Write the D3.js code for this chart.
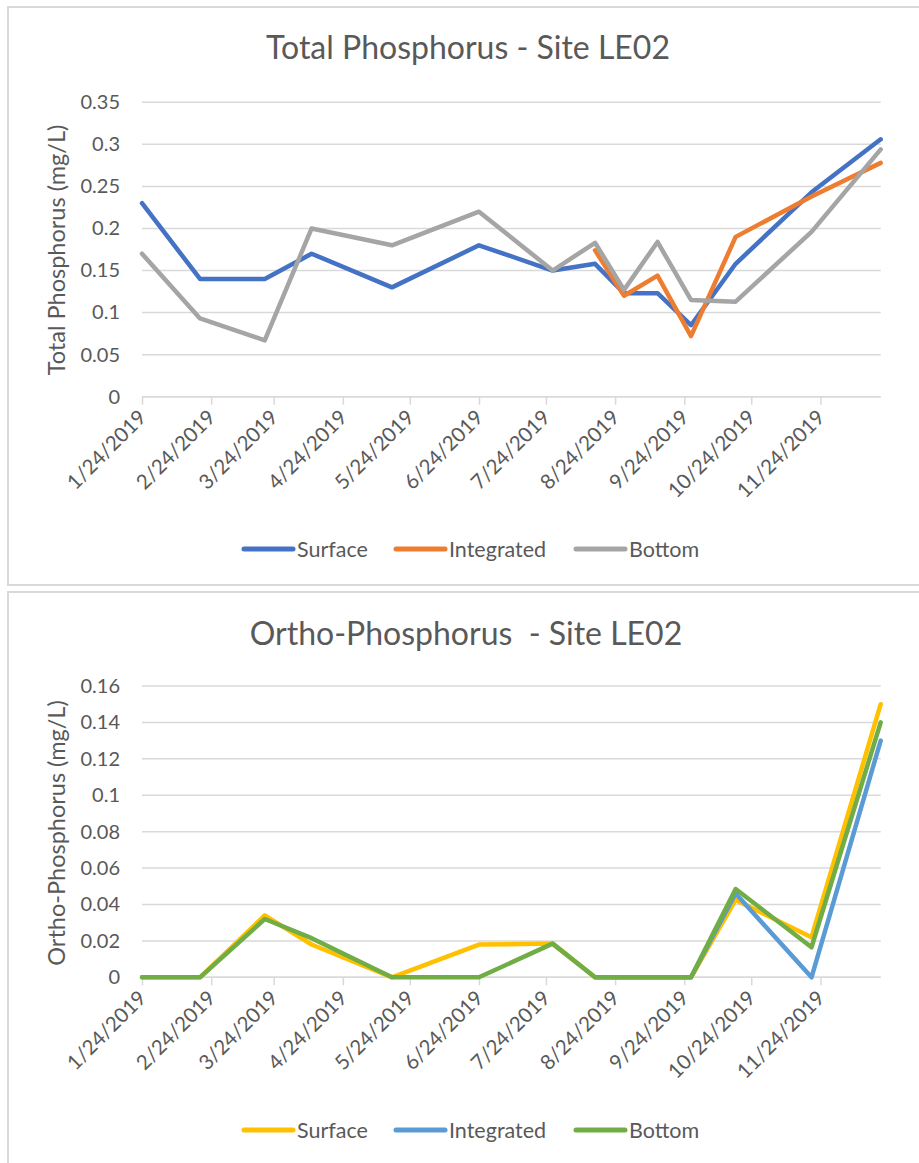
<!DOCTYPE html>
<html>
<head>
<meta charset="utf-8">
<script src="https://cdn.jsdelivr.net/npm/d3@7"></script>
<style>
  html, body { margin: 0; padding: 0; background: #fff; }
  svg { display: block; }
  text { font-family: Lato, "Open Sans", sans-serif; fill: #595959; }
</style>
</head>
<body>
<svg id="chart" width="919" height="1163"></svg>
<script>
// ---------- DATA ----------
const sampleDates = ["2019-01-24","2019-02-19","2019-03-20","2019-04-10","2019-05-16","2019-06-24",
  "2019-07-27","2019-08-15","2019-08-28","2019-09-12","2019-09-27","2019-10-17","2019-11-20","2019-12-21"];
const seriesNames = ["Surface", "Integrated", "Bottom"];

const tpSurface    = [0.23, 0.14, 0.14, 0.17, 0.13, 0.18, 0.15, 0.158, 0.123, 0.123, 0.085, 0.158, 0.243, 0.306];
const tpIntegrated = [null, null, null, null, null, null, null, 0.174, 0.12, 0.144, 0.072, 0.19, 0.238, 0.278];
const tpBottom     = [0.17, 0.093, 0.067, 0.2, 0.18, 0.22, 0.15, 0.183, 0.127, 0.184, 0.115, 0.113, 0.196, 0.294];

const opSurface    = [0, 0, 0.034, 0.018, 0, 0.018, 0.0185, 0, 0, 0, 0, 0.0425, 0.022, 0.15];
const opIntegrated = [null, null, null, null, null, null, null, 0, 0, 0, 0, 0.046, 0, 0.13];
const opBottom     = [0, 0, 0.032, 0.0215, 0, 0, 0.0185, 0, 0, 0, 0, 0.0485, 0.0165, 0.14];

const xTickDates  = ["2019-01-24","2019-02-24","2019-03-24","2019-04-24","2019-05-24","2019-06-24",
  "2019-07-24","2019-08-24","2019-09-24","2019-10-24","2019-11-24"];
const xTickLabels = ["1/24/2019","2/24/2019","3/24/2019","4/24/2019","5/24/2019","6/24/2019",
  "7/24/2019","8/24/2019","9/24/2019","10/24/2019","11/24/2019"];

const tpTicks = [0, 0.05, 0.1, 0.15, 0.2, 0.25, 0.3, 0.35];
const tpTickLabels = ["0","0.05","0.1","0.15","0.2","0.25","0.3","0.35"];
const opTicks = [0, 0.02, 0.04, 0.06, 0.08, 0.1, 0.12, 0.14, 0.16];
const opTickLabels = ["0","0.02","0.04","0.06","0.08","0.1","0.12","0.14","0.16"];

const tpColors = ["#4472C4", "#ED7D31", "#A5A5A5"];
const opColors = ["#FFC000", "#5B9BD5", "#70AD47"];

// ---------- DRAW ----------
const parse = d3.timeParse("%Y-%m-%d");
const svg = d3.select("#chart");

function drawChart(cfg) {
  const g = svg.append("g");
  // frame
  g.append("rect")
    .attr("x", cfg.box[0]).attr("y", cfg.box[1])
    .attr("width", cfg.box[2]).attr("height", cfg.box[3])
    .attr("fill", "#fff").attr("stroke", "#d9d9d9").attr("stroke-width", 2);

  const x = d3.scaleTime()
    .domain([parse(sampleDates[0]), parse(sampleDates[sampleDates.length - 1])])
    .range([cfg.left, cfg.right]);
  const y = d3.scaleLinear().domain([0, cfg.max]).range([cfg.bottom, cfg.top]);

  // gridlines
  g.append("g").selectAll("line").data(cfg.ticks).join("line")
    .attr("x1", cfg.left).attr("x2", cfg.right)
    .attr("y1", d => y(d)).attr("y2", d => y(d))
    .attr("stroke", "#d9d9d9").attr("stroke-width", 1.5);

  // y axis labels
  const yAxis = d3.axisLeft(y).tickValues(cfg.ticks)
    .tickFormat((d, i) => cfg.tickLabels[i]).tickSize(0).tickPadding(22);
  const ya = g.append("g").attr("transform", `translate(${cfg.left},0)`).call(yAxis);
  ya.select(".domain").remove();
  ya.selectAll("text").style("font-size", "20px").style("font-family", "Lato").attr("fill", "#595959");

  // x axis
  const xTicks = xTickDates.map(parse);
  const xAxis = d3.axisBottom(x).tickValues(xTicks)
    .tickFormat((d, i) => xTickLabels[i]).tickSize(8);
  const xa = g.append("g").attr("transform", `translate(0,${cfg.bottom})`).call(xAxis);
  xa.select(".domain").attr("stroke", "#d9d9d9").attr("stroke-width", 1.5)
    .attr("d", `M${cfg.left},0H${cfg.right}`);
  xa.selectAll(".tick line").attr("stroke", "#d9d9d9").attr("stroke-width", 1.5);
  xa.selectAll(".tick text")
    .attr("text-anchor", "end")
    .attr("y", 0).attr("dy", 0)
    .attr("transform", "translate(5,22) rotate(-45)")
    .style("font-size", "20.5px").style("font-family", "Lato").attr("fill", "#595959");

  // lines
  const line = d3.line()
    .defined(d => d.v !== null)
    .x(d => x(d.date)).y(d => y(d.v));
  cfg.series.forEach((vals, i) => {
    const pts = vals.map((v, j) => ({ date: parse(sampleDates[j]), v: v }));
    g.append("path").datum(pts)
      .attr("d", line)
      .attr("fill", "none")
      .attr("stroke", cfg.colors[i])
      .attr("stroke-width", 4.5)
      .attr("stroke-linejoin", "round")
      .attr("stroke-linecap", "round");
  });

  // title
  g.append("text")
    .attr("x", cfg.titleX).attr("y", cfg.titleY)
    .attr("text-anchor", "middle")
    .style("font-size", "32px")
    .style("white-space", "pre")
    .attr("xml:space", "preserve")
    .text(cfg.title);

  // y title
  g.append("text")
    .attr("transform", `translate(65,${cfg.yTitleY}) rotate(-90)`)
    .attr("text-anchor", "middle")
    .style("font-size", "23.5px")
    .text(cfg.yTitle);

  // legend
  const legX = [242, 394, 574];
  const lg = g.append("g");
  seriesNames.forEach((name, i) => {
    lg.append("line")
      .attr("x1", legX[i] + 2).attr("x2", legX[i] + 51)
      .attr("y1", cfg.legendY).attr("y2", cfg.legendY)
      .attr("stroke", cfg.colors[i]).attr("stroke-width", 5)
      .attr("stroke-linecap", "round");
    lg.append("text")
      .attr("x", legX[i] + 55).attr("y", cfg.legendY)
      .attr("dy", "0.35em")
      .style("font-size", "21.5px")
      .text(name);
  });
}

drawChart({
  box: [8, 7, 925, 578],
  left: 142, right: 880.7, top: 102.3, bottom: 396.7, max: 0.35,
  ticks: tpTicks, tickLabels: tpTickLabels,
  series: [tpSurface, tpIntegrated, tpBottom], colors: tpColors,
  title: "Total Phosphorus - Site LE02", titleX: 468, titleY: 59,
  yTitle: "Total Phosphorus (mg/L)", yTitleY: 250,
  legendY: 549
});

drawChart({
  box: [8, 592, 925, 580],
  left: 142, right: 880.7, top: 686, bottom: 977.3, max: 0.16,
  ticks: opTicks, tickLabels: opTickLabels,
  series: [opSurface, opIntegrated, opBottom], colors: opColors,
  title: "Ortho-Phosphorus  - Site LE02", titleX: 466, titleY: 645,
  yTitle: "Ortho-Phosphorus (mg/L)", yTitleY: 833,
  legendY: 1130
});
</script>
</body>
</html>
